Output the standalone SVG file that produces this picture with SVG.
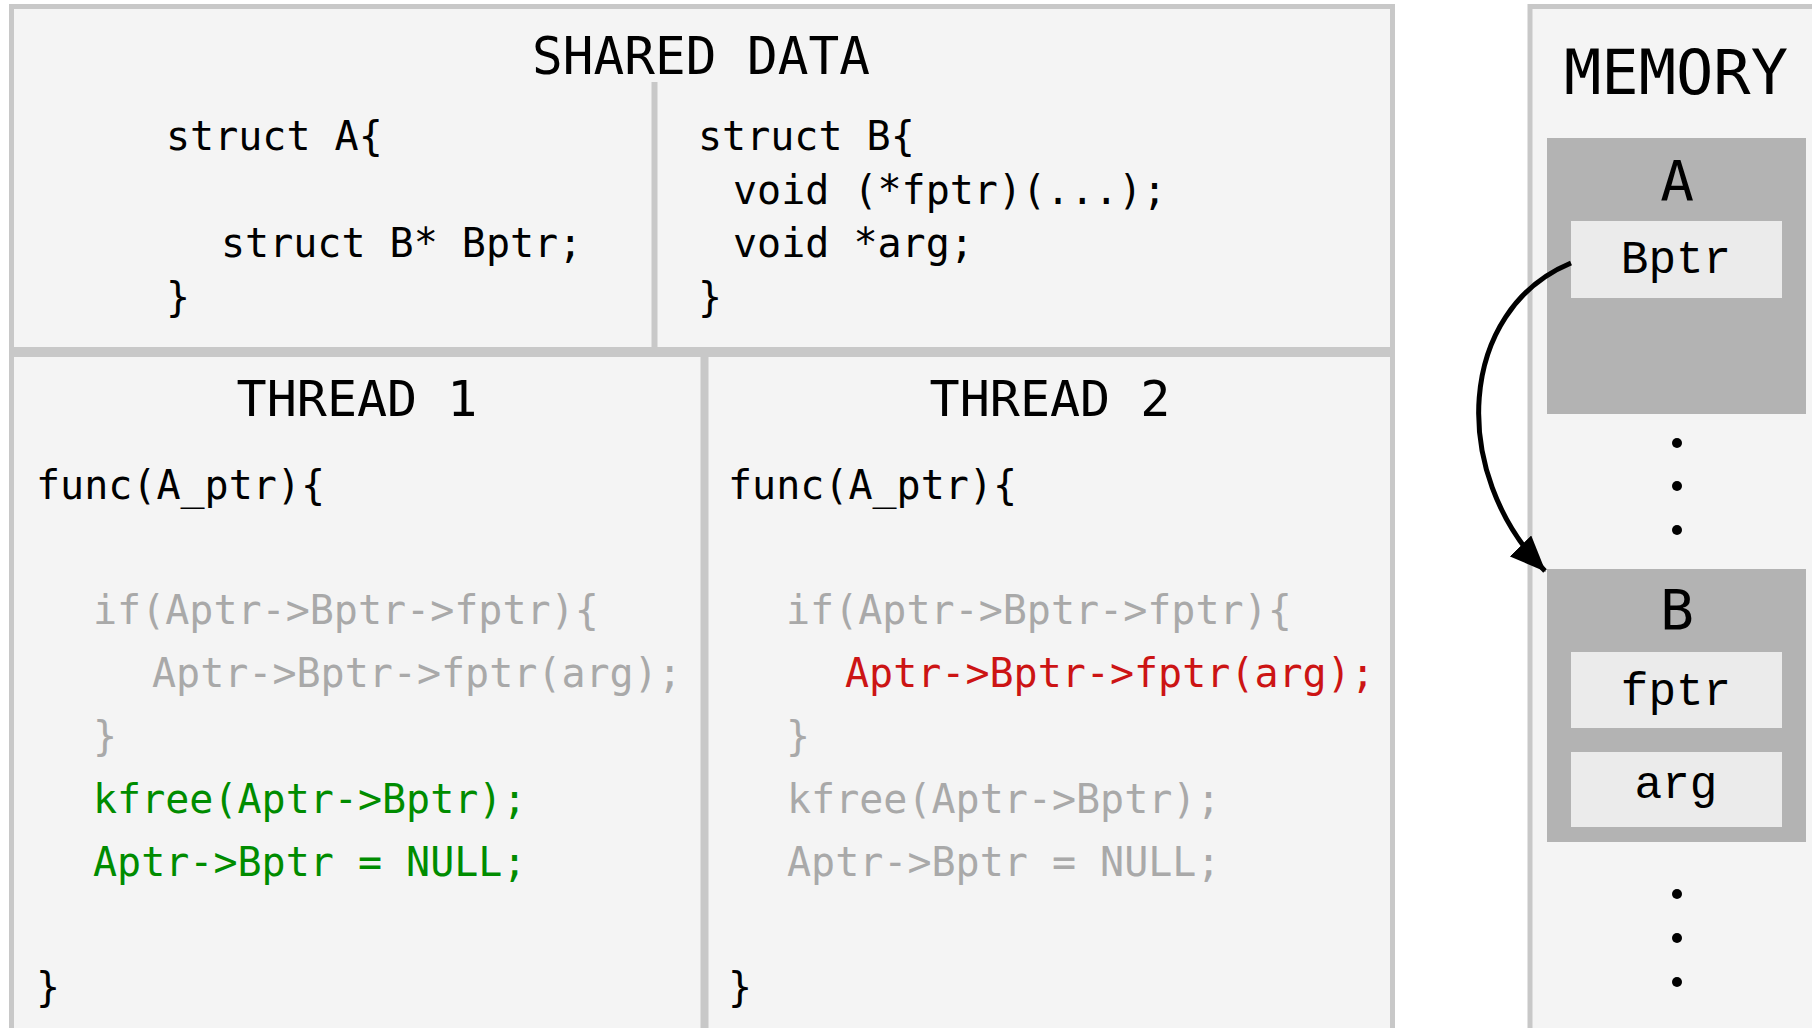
<svg xmlns="http://www.w3.org/2000/svg" width="1812" height="1028" viewBox="0 0 1812 1028">
<defs>
<style>
.panel{fill:#f4f4f4;stroke:#c8c8c8;stroke-width:5}
.div{stroke:#c8c8c8;stroke-width:6}
.head{font-family:"DejaVu Sans Mono",monospace;fill:#000;text-anchor:middle}
.code{font-family:"DejaVu Sans Mono",monospace;font-size:40px;fill:#000}
.gray{fill:#a9a9a9}
.green{fill:#008c00}
.red{fill:#cc1414}
.blk{fill:#b3b3b3}
.fld{fill:#ebebeb}
.fldt{font-family:"Liberation Mono",monospace;font-size:46px;fill:#000;text-anchor:middle}
.dot{fill:#000}
.conn{fill:none;stroke:#000;stroke-width:5}
</style>
<marker id="arrh" viewBox="0 0 36 30" refX="35" refY="15" markerWidth="36" markerHeight="30" markerUnits="userSpaceOnUse" orient="auto">
<path d="M0,0 L36,15 L0,30 z" fill="#000"/>
</marker>
</defs>
<rect width="1812" height="1028" fill="#fff"/>

<g id="shared-data">
<rect class="panel" x="11.5" y="6.5" width="1381" height="343"/>
<line class="div" x1="654.5" y1="82" x2="654.5" y2="348"/>
<text class="head" x="701" y="74" font-size="51">SHARED DATA</text>
<text class="code" x="166" y="150">struct A{</text>
<text class="code" x="221" y="257">struct B* Bptr;</text>
<text class="code" x="166" y="311">}</text>
<text class="code" x="698" y="150">struct B{</text>
<text class="code" x="733" y="204">void (*fptr)(...);</text>
<text class="code" x="733" y="257">void *arg;</text>
<text class="code" x="698" y="311">}</text>
</g>

<g id="thread-1">
<rect class="panel" x="11.5" y="354.5" width="691.5" height="690"/>
<text class="head" x="357" y="416" font-size="50">THREAD 1</text>
<text class="code" x="36" y="499">func(A_ptr){</text>
<text class="code gray" x="93" y="624">if(Aptr-&gt;Bptr-&gt;fptr){</text>
<text class="code gray" x="152" y="687">Aptr-&gt;Bptr-&gt;fptr(arg);</text>
<text class="code gray" x="93" y="750">}</text>
<text class="code green" x="93" y="813">kfree(Aptr-&gt;Bptr);</text>
<text class="code green" x="93" y="876">Aptr-&gt;Bptr = NULL;</text>
<text class="code" x="36" y="1001">}</text>
</g>

<g id="thread-2">
<rect class="panel" x="706" y="354.5" width="686.5" height="690"/>
<text class="head" x="1050" y="416" font-size="50">THREAD 2</text>
<text class="code" x="728" y="499">func(A_ptr){</text>
<text class="code gray" x="786" y="624">if(Aptr-&gt;Bptr-&gt;fptr){</text>
<text class="code red" x="845" y="687">Aptr-&gt;Bptr-&gt;fptr(arg);</text>
<text class="code gray" x="786" y="750">}</text>
<text class="code gray" x="787" y="813">kfree(Aptr-&gt;Bptr);</text>
<text class="code gray" x="787" y="876">Aptr-&gt;Bptr = NULL;</text>
<text class="code" x="728" y="1001">}</text>
</g>

<g id="memory">
<rect class="panel" x="1530" y="6.5" width="320" height="1060"/>
<text class="head" x="1676" y="94" font-size="62">MEMORY</text>
<g id="mem-A">
<rect class="blk" x="1547" y="138" width="259" height="276"/>
<text class="head" x="1677" y="200" font-size="56">A</text>
<rect class="fld" x="1571" y="221" width="211" height="77"/>
<text class="fldt" x="1676" y="273">Bptr</text>
</g>
<circle class="dot" cx="1677" cy="443" r="5"/>
<circle class="dot" cx="1677" cy="486" r="5"/>
<circle class="dot" cx="1677" cy="530" r="5"/>
<g id="mem-B">
<rect class="blk" x="1547" y="569" width="259" height="273"/>
<text class="head" x="1677" y="629" font-size="56">B</text>
<rect class="fld" x="1571" y="652" width="211" height="76"/>
<text class="fldt" x="1676" y="705">fptr</text>
<rect class="fld" x="1571" y="752" width="211" height="75"/>
<text class="fldt" x="1676" y="798">arg</text>
</g>
<circle class="dot" cx="1677" cy="894" r="5"/>
<circle class="dot" cx="1677" cy="938" r="5"/>
<circle class="dot" cx="1677" cy="982" r="5"/>
</g>

<g id="connectors">
<path class="conn" d="M1571,263 C1458,310 1448,472 1545,571" marker-end="url(#arrh)"/>
</g>
</svg>
